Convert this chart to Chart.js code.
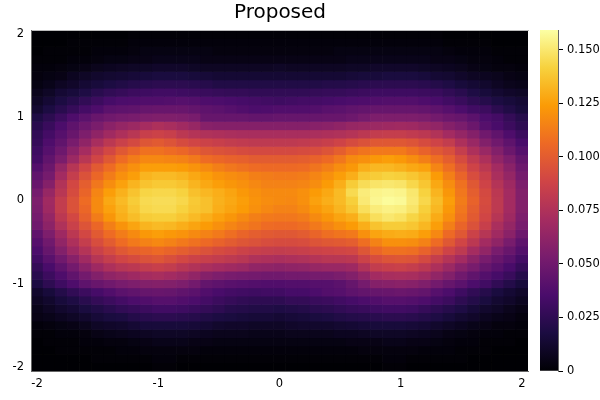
<!DOCTYPE html>
<html>
<head>
<meta charset="utf-8">
<title>Proposed</title>
<script src="https://cdn.jsdelivr.net/npm/chart.js@4"></script>
<style>
	body { margin: 0; background: #fff; }
	#wrap { position: relative; width: 600px; height: 400px; }
	canvas { position: absolute; top: 0; }
	#heat-chart { left: 0; }
	#bar-chart { left: 530px; }
</style>
</head>
<body>
<div id="wrap">
	<canvas id="heat-chart" width="560" height="400"></canvas>
	<canvas id="bar-chart" width="70" height="400"></canvas>
</div>
<script>
const titleText = 'Proposed';

const xCenters = [-2, -1.9, -1.8, -1.7, -1.6, -1.5, -1.4, -1.3, -1.2, -1.1, -1, -0.9, -0.8, -0.7, -0.6, -0.5, -0.4, -0.3, -0.2, -0.1, 0, 0.1, 0.2, 0.3, 0.4, 0.5, 0.6, 0.7, 0.8, 0.9, 1, 1.1, 1.2, 1.3, 1.4, 1.5, 1.6, 1.7, 1.8, 1.9, 2];
const yCenters = [2, 1.9, 1.8, 1.7, 1.6, 1.5, 1.4, 1.3, 1.2, 1.1, 1, 0.9, 0.8, 0.7, 0.6, 0.5, 0.4, 0.3, 0.2, 0.1, 0, -0.1, -0.2, -0.3, -0.4, -0.5, -0.6, -0.7, -0.8, -0.9, -1, -1.1, -1.2, -1.3, -1.4, -1.5, -1.6, -1.7, -1.8, -1.9, -2];

// cell values in thousandths, one row per y from top to bottom
const heatRows = [
	[0,0,0,0,0, 0,0,0,1,1, 1,1,1,1,1, 1,1,1,1,1, 1,1,1,1,1, 1,1,1,1,1, 1,1,1,1,0, 0,0,0,0,0, 0],
	[0,0,0,1,1, 1,1,1,2,2, 2,2,2,2,2, 2,2,2,2,2, 2,2,2,2,2, 2,2,2,2,2, 2,2,2,2,1, 1,1,1,0,0, 0],
	[0,1,1,1,1, 2,2,2,3,4, 4,4,4,4,4, 3,3,3,3,3, 3,3,3,3,3, 4,4,4,4,4, 4,4,4,4,3, 2,2,2,1,1, 1],
	[1,1,1,2,2, 3,4,4,5,5, 6,6,6,6,5, 5,5,5,5,5, 5,5,5,5,5, 5,6,6,6,6, 6,6,6,5,5, 4,3,3,2,1, 1],
	[2,2,3,4,5, 7,8,9,10,10, 11,11,11,10,9, 9,9,9,9,9, 10,9,9,9,9, 9,10,10,11,11, 11,11,10,9,8, 7,5,4,3,3, 2],
	[3,4,5,8,10, 12,13,14,15,16, 17,17,17,16,15, 14,14,14,14,14, 14,14,14,14,14, 14,15,16,16,17, 17,17,16,14,13, 11,9,8,7,5, 4],
	[4,6,9,11,14, 16,18,20,22,23, 24,24,24,23,22, 20,20,20,20,20, 20,20,20,20,21, 21,22,23,24,24, 24,24,23,21,19, 16,14,12,9,7, 6],
	[7,10,14,16,19, 23,26,28,30,31, 32,32,31,30,29, 28,27,27,26,26, 26,26,26,27,28, 28,29,30,31,31, 31,31,30,29,26, 23,19,16,13,11, 10],
	[10,14,18,22,26, 30,34,36,37,38, 38,39,40,39,37, 36,35,34,33,32, 31,32,33,33,34, 35,36,37,38,39, 39,39,37,35,32, 29,25,22,18,16, 14],
	[13,18,23,28,33, 37,42,43,44,46, 47,47,47,45,43, 42,40,38,36,37, 38,38,38,39,41, 42,44,45,46,46, 46,46,45,43,40, 36,32,30,24,20, 16],
	[19,24,30,37,42, 47,50,52,53,55, 56,56,55,53,46, 46,46,46,45,45, 46,46,46,46,47, 47,49,52,55,55, 55,55,54,51,48, 46,42,36,33,27, 22],
	[23,29,36,43,49, 54,60,64,67,71, 74,72,69,65,59, 58,58,58,58,58, 58,58,58,59,60, 62,65,66,67,68, 69,68,65,63,58, 54,48,40,35,30, 25],
	[26,33,40,47,55, 62,69,74,79,85, 87,85,80,77,75, 74,73,72,72,72, 72,72,72,73,74, 75,77,80,83,84, 84,82,80,76,70, 64,58,50,44,37, 30],
	[28,37,44,53,62, 72,80,86,91,97, 99,96,92,89,87, 85,83,82,81,81, 81,81,82,83,85, 88,92,95,98,98, 98,96,92,88,83, 74,66,57,50,43, 35],
	[31,40,49,60,71, 82,90,98,104,109, 109,107,105,101,97, 95,94,92,91,91, 91,91,92,93,96, 101,107,110,112,112, 112,108,103,98,94, 84,74,66,57,48, 40],
	[33,44,54,67,79, 89,98,107,113,117, 117,116,115,112,107, 105,103,102,100,100, 100,100,101,103,106, 111,118,120,123,125, 123,119,114,108,101, 92,82,74,63,55, 45],
	[39,48,64,78,89, 99,107,115,120,125, 125,125,124,121,118, 114,111,109,107,106, 106,106,107,110,114, 119,123,130,133,133, 131,128,126,116,108, 98,88,80,70,60, 49],
	[44,52,70,84,95, 105,113,120,125,132, 134,134,132,128,125, 121,119,117,114,113, 112,112,113,116,120, 125,130,138,140,142, 141,138,134,124,114, 104,93,85,73,64, 52],
	[47,58,76,90,101, 111,119,126,132,137, 139,139,137,132,128, 125,122,120,117,115, 115,115,116,119,124, 130,140,146,149,150, 149,144,138,128,119, 109,98,88,77,68, 55],
	[52,65,79,92,104, 116,125,131,137,143, 144,144,142,136,133, 130,127,123,120,118, 118,118,120,124,128, 134,145,152,155,156, 155,150,142,132,122, 111,101,91,80,70, 57],
	[55,69,83,95,107, 118,128,134,140,145, 146,146,144,139,136, 131,128,125,121,119, 118,117,120,126,130, 134,141,151,156,158, 157,151,144,135,125, 113,103,92,81,70, 57],
	[54,68,83,95,105, 118,126,132,138,144, 145,145,142,138,136, 130,127,124,120,117, 115,115,118,123,127, 132,138,147,152,154, 153,149,141,133,123, 111,101,91,81,70, 57],
	[52,64,80,90,102, 113,122,130,135,140, 141,141,138,134,130, 126,122,118,114,112, 111,111,113,118,122, 127,130,140,147,150, 148,143,138,129,120, 109,99,89,78,68, 55],
	[50,61,75,86,96, 105,114,121,127,132, 134,133,130,127,124, 120,116,113,110,107, 106,106,108,112,116, 120,124,130,137,140, 140,138,133,125,114, 104,95,85,73,64, 53],
	[44,55,68,80,90, 99,107,113,118,123, 125,123,121,118,115, 112,108,104,101,99, 98,98,100,104,108, 110,112,120,127,129, 130,129,125,117,106, 98,87,78,69,60, 49],
	[40,50,63,74,84, 93,100,107,112,115, 117,115,112,109,106, 103,100,97,95,93, 92,92,93,96,98, 99,101,108,115,120, 120,119,115,107,98, 89,80,70,62,53, 43],
	[36,46,57,68,77, 86,92,98,102,104, 106,104,101,98,95, 92,90,87,85,84, 83,84,85,87,88, 89,90,97,105,109, 109,108,103,96,88, 81,71,63,53,47, 39],
	[32,41,50,59,69, 78,84,89,92,95, 97,94,90,87,85, 83,81,79,75,74, 73,74,75,77,79, 79,80,87,93,96, 97,96,91,84,77, 70,61,53,47,41, 33],
	[27,35,43,51,60, 68,74,78,80,83, 85,83,79,76,73, 71,69,67,63,62, 61,62,63,65,66, 66,68,76,83,85, 86,84,80,74,67, 59,53,46,41,35, 28],
	[23,30,37,44,51, 57,62,65,68,71, 72,70,67,63,58, 55,53,52,51,50, 50,51,51,52,52, 54,57,63,70,72, 73,72,69,63,57, 50,44,39,34,29, 22],
	[18,25,31,37,43, 47,50,53,55,57, 58,57,55,51,45, 43,41,40,39,38, 38,39,39,40,40, 42,46,52,58,59, 60,59,56,51,46, 42,36,32,26,21, 16],
	[12,16,21,26,30, 34,38,42,44,46, 47,46,44,42,38, 35,33,32,31,32, 32,34,34,36,39, 40,43,45,46,47, 48,47,45,40,36, 31,26,22,17,14, 11],
	[9,12,16,19,23, 27,30,33,36,38, 40,40,38,36,33, 30,28,26,25,25, 25,27,27,29,30, 32,34,36,38,40, 40,39,37,33,30, 25,21,17,13,11, 8],
	[6,9,12,14,17, 20,23,26,28,30, 32,32,31,29,27, 25,22,21,20,20, 19,20,21,23,24, 26,28,29,31,32, 32,31,28,25,22, 19,15,12,10,7, 5],
	[5,6,8,10,12, 15,17,18,21,23, 24,24,23,22,20, 18,17,16,15,15, 14,15,16,17,18, 20,21,22,23,24, 24,23,21,19,16, 13,11,8,6,5, 3],
	[2,3,4,5,7, 10,11,12,14,16, 16,16,16,15,14, 12,11,11,10,10, 10,11,12,12,12, 13,14,15,16,16, 16,15,14,12,10, 8,6,5,3,3, 2],
	[1,1,2,2,3, 5,6,7,8,9, 10,10,10,9,8, 7,7,7,6,6, 6,7,7,7,7, 8,8,9,10,10, 10,9,8,7,5, 4,3,2,2,1, 1],
	[0,1,1,1,2, 2,3,3,4,5, 6,6,6,5,5, 4,4,4,4,4, 4,4,4,4,4, 4,5,5,5,6, 6,5,5,4,3, 2,2,1,1,1, 0],
	[0,0,1,1,1, 1,1,2,2,3, 3,3,3,3,2, 2,2,2,2,2, 2,2,2,2,2, 2,2,3,3,3, 3,3,2,2,2, 1,1,1,0,0, 0],
	[0,0,0,0,0, 1,1,1,1,1, 2,2,1,1,1, 1,1,1,1,1, 1,1,1,1,1, 1,1,1,1,2, 2,1,1,1,1, 1,0,0,0,0, 0],
	[0,0,0,0,0, 0,0,0,0,0, 1,1,0,0,0, 0,0,0,0,0, 0,0,0,0,0, 0,0,0,0,1, 1,0,0,0,0, 0,0,0,0,0, 0]
];
const colorMax = 0.1593;
const colorStep = 0.025;

const inferno = ['#000004', '#1b0c41', '#4a0c6b', '#781c6d', '#a52c60', '#cf4446', '#ed6925', '#fb9b06', '#f7d13d', '#fcffa4'];
const textColor = '#000000';
const spineColor = '#666666';
const topLineColor = '#bbbbbb';
const tickFont = { family: '"DejaVu Sans"', size: 11.5 };

function hexToRgb(hex) {
	return [1, 3, 5].map(i => parseInt(hex.slice(i, i + 2), 16));
}

function cellColor(v) {
	const t = Math.min(v / colorMax, 1) * (inferno.length - 1);
	const i = Math.min(Math.floor(t), inferno.length - 2);
	const a = hexToRgb(inferno[i]);
	const b = hexToRgb(inferno[i + 1]);
	const mix = a.map((c, k) => Math.round(c + (b[k] - c) * (t - i)));
	return `rgb(${mix[0]}, ${mix[1]}, ${mix[2]})`;
}

// heatmap - one floating-bar dataset per row
const halfCell = 0.05;
const heatData = {
	labels: xCenters,
	datasets: heatRows.map((row, r) => ({
		data: row.map(() => [yCenters[r] - halfCell, yCenters[r] + halfCell]),
		backgroundColor: row.map(v => cellColor(v / 1000)),
		grouped: false,
		barPercentage: 1,
		categoryPercentage: 1,
		borderWidth: 0
	}))
};

const heatChart = new Chart(document.getElementById('heat-chart'), {
	type: 'bar',
	data: heatData,
	options: {
		responsive: false,
		animation: false,
		scales: {
			x: {
				offset: true,
				grid: { display: false, drawTicks: false },
				border: { color: spineColor, z: 1 },
				afterFit: scale => { scale.height = 29; },
				ticks: {
					autoSkip: false,
					maxRotation: 0,
					padding: 6,
					color: textColor,
					font: tickFont,
					callback(value) {
						const x = this.getLabelForValue(value);
						return Number.isInteger(x) ? String(x) : '';
					}
				}
			},
			xTop: {
				position: 'top',
				grid: { display: false, drawTicks: false },
				border: { color: topLineColor, z: 1 },
				ticks: { display: false },
				afterFit: scale => { scale.height = 0; }
			},
			y: {
				min: yCenters[yCenters.length - 1] - halfCell,
				max: yCenters[0] + halfCell,
				grid: { display: false, drawTicks: false },
				border: { color: spineColor, z: 1 },
				afterFit: scale => { scale.width = 31; },
				ticks: {
					stepSize: 1,
					includeBounds: false,
					padding: 7,
					color: textColor,
					font: tickFont,
					callback: value => String(value)
				}
			},
			// empty axis, keeps the room on the right without moving the title off centre
			yRight: {
				position: 'right',
				grid: { display: false, drawTicks: false },
				border: { display: false },
				ticks: { display: false },
				afterFit: scale => { scale.width = 32; }
			}
		},
		plugins: {
			legend: { display: false },
			tooltip: { enabled: false },
			title: {
				display: true,
				text: titleText,
				color: textColor,
				font: { family: '"DejaVu Sans"', size: 20, weight: 'normal' },
				padding: { top: 1, bottom: 5 }
			}
		}
	}
});

// colour bar - a single floating bar filled along the value scale
const barChart = new Chart(document.getElementById('bar-chart'), {
	type: 'bar',
	data: {
		labels: [''],
		datasets: [{
			data: [[0, colorMax]],
			barPercentage: 1,
			categoryPercentage: 1,
			borderWidth: 0,
			backgroundColor(ctx) {
				const y = ctx.chart.scales.y;
				const y0 = y ? y.getPixelForValue(0) : NaN;
				const y1 = y ? y.getPixelForValue(colorMax) : NaN;
				if (!Number.isFinite(y0) || !Number.isFinite(y1)) return inferno[0];
				const fill = ctx.chart.ctx.createLinearGradient(0, y0, 0, y1);
				inferno.forEach((c, i) => fill.addColorStop(i / (inferno.length - 1), c));
				return fill;
			}
		}]
	},
	options: {
		responsive: false,
		animation: false,
		layout: { padding: { left: 10, top: 30, bottom: 29 } },
		scales: {
			x: { display: false },
			y: {
				position: 'right',
				min: 0,
				max: colorMax,
				afterFit: scale => { scale.width = 42; },
				grid: { drawOnChartArea: false, tickLength: 5, tickColor: textColor },
				border: { color: spineColor, z: 1 },
				ticks: {
					stepSize: colorStep,
					includeBounds: false,
					padding: 4,
					color: textColor,
					font: tickFont,
					callback: value => value === 0 ? '0' : value.toFixed(3)
				}
			}
		},
		plugins: {
			legend: { display: false },
			tooltip: { enabled: false }
		}
	}
});
</script>
</body>
</html>
